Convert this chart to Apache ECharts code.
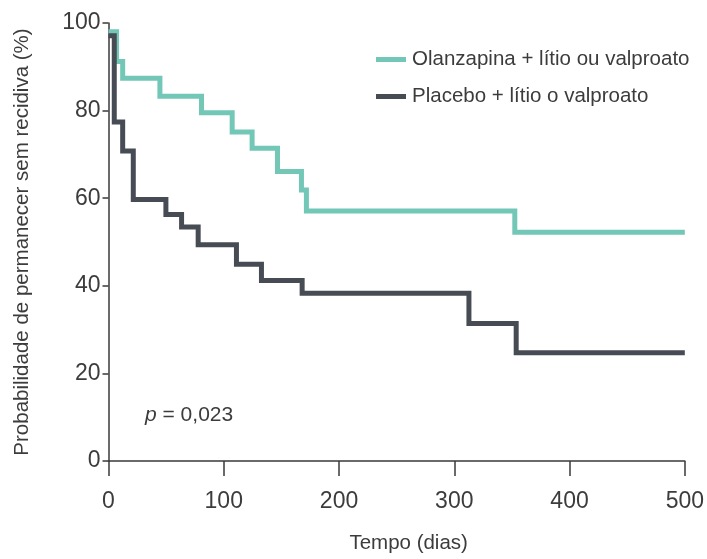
<!DOCTYPE html>
<html>
<head>
<meta charset="utf-8">
<script src="https://cdn.jsdelivr.net/npm/echarts@6/dist/echarts.min.js"></script>
<style>
html,body{margin:0;padding:0;background:#fff;}
#chart{width:707px;height:559px;}
</style>
</head>
<body>
<div id="chart"></div>
<script>
// Data (time in days, survival %)
var olanzTime  = [0, 7, 12.3, 44.6, 80.7, 107.3, 124.6, 146.6, 167.4, 171.7, 352.5, 500];
var olanzValue = [98, 91.2, 87.4, 83.3, 79.5, 75.1, 71.4, 66.1, 61.9, 57.1, 52.2, 52.2];
var placTime   = [0, 5, 12.3, 21.5, 49.8, 63.4, 77.8, 111, 132.7, 168, 312.7, 353.7, 500];
var placValue  = [97.1, 77.4, 70.8, 59.7, 56.3, 53.4, 49.4, 44.9, 41.2, 38.3, 31.4, 24.7, 24.7];
var seriesNames = ['Olanzapina + lítio ou valproato', 'Placebo + lítio o valproato'];
var xTicks = [0, 100, 200, 300, 400, 500];
var yTicks = [0, 20, 40, 60, 80, 100];
var xTitle = 'Tempo (dias)';
var yTitle = 'Probabilidade de permanecer sem recidiva (%)';
var pText = '0,023';

function pairs(t, v) { return t.map(function (x, i) { return [x, v[i]]; }); }

var FONT = "'Liberation Sans', Arial, sans-serif";
var TXT = '#3c3c3c';
var chart = echarts.init(document.getElementById('chart'), null, {renderer: 'canvas'});
chart.setOption({
  animation: false,
  backgroundColor: '#ffffff',
  textStyle: {fontFamily: FONT, color: TXT},
  grid: {left: 108.5, right: 22, top: 23, bottom: 95, containLabel: false},
  legend: {
    orient: 'vertical', left: 371, top: 44, itemWidth: 30, itemHeight: 5, itemGap: 16,
    icon: 'rect',
    textStyle: {fontFamily: FONT, fontSize: 20.5, color: TXT, lineHeight: 20, padding: [0, 0, 0, 1]},
    data: seriesNames
  },
  xAxis: {
    type: 'value', min: xTicks[0], max: xTicks[xTicks.length - 1], interval: 100,
    name: xTitle, nameLocation: 'middle', nameGap: 72,
    nameTextStyle: {fontFamily: FONT, fontSize: 20.5, color: TXT, padding: [0, 0, 0, 24]},
    axisLine: {onZero: false, lineStyle: {color: '#3a3a3a', width: 1.5}},
    axisTick: {length: 15, lineStyle: {color: '#3a3a3a', width: 1.5}},
    axisLabel: {margin: 29, fontSize: 23, color: TXT, fontFamily: FONT},
    splitLine: {show: false}
  },
  yAxis: {
    type: 'value', min: yTicks[0], max: yTicks[yTicks.length - 1], interval: 20,
    name: yTitle, nameLocation: 'middle', nameGap: 76,
    nameTextStyle: {fontFamily: FONT, fontSize: 20.5, color: TXT},
    axisLine: {show: true, lineStyle: {color: '#3a3a3a', width: 1.5}},
    axisTick: {show: true, length: 6, lineStyle: {color: '#3a3a3a', width: 1.5}},
    axisLabel: {margin: 8, fontSize: 23, color: TXT, fontFamily: FONT},
    splitLine: {show: false}
  },
  graphic: [{
    type: 'text', left: 145, top: 405,
    style: {
      text: '{i|p} = ' + pText,
      font: '21px ' + FONT, fill: TXT,
      rich: {i: {fontStyle: 'italic', fontSize: 21, fontFamily: FONT, fill: TXT}}
    }
  }],
  series: [{
    name: seriesNames[0], type: 'line', step: 'end', symbol: 'none', z: 2,
    data: pairs(olanzTime, olanzValue),
    lineStyle: {color: '#72c7b7', width: 5, join: 'miter', cap: 'butt'},
    itemStyle: {color: '#72c7b7'}
  }, {
    name: seriesNames[1], type: 'line', step: 'end', symbol: 'none', z: 3,
    data: pairs(placTime, placValue),
    lineStyle: {color: '#474b54', width: 5, join: 'miter', cap: 'butt'},
    itemStyle: {color: '#474b54'}
  }]
});
</script>
</body>
</html>
